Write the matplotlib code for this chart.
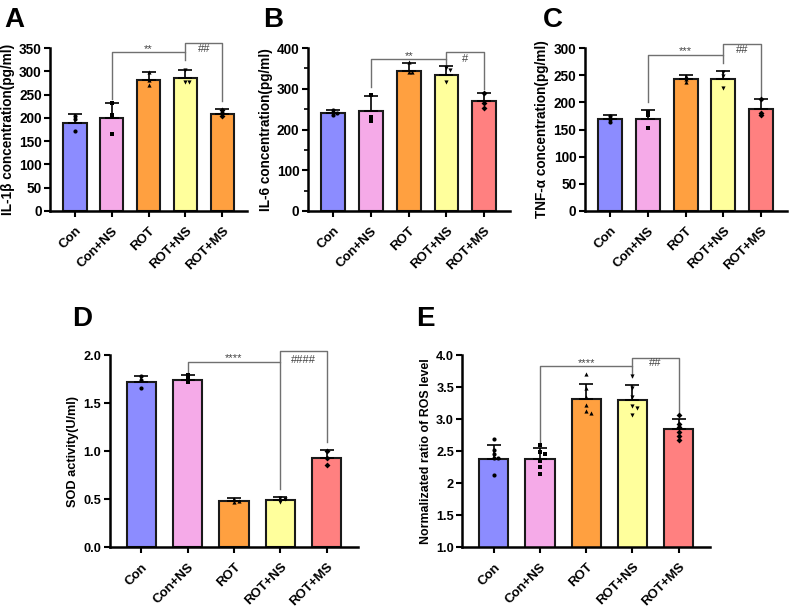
import numpy as np
import matplotlib
matplotlib.use('Agg')
from matplotlib import pyplot as plt

plt.rcParams['font.family'] = ['Liberation Sans', 'DejaVu Sans']
plt.rcParams['font.weight'] = 'bold'

groups = ['Con', 'Con+NS', 'ROT', 'ROT+NS', 'ROT+MS']
colors = ['#8C8CFF', '#F5AAE8', '#FFA040', '#FFFF9C', '#FF8080']
colors_a = ['#8C8CFF', '#F5AAE8', '#FFA040', '#FFFF9C', '#FFA040']
markers = ['o', 's', '^', 'v', 'D']

# panel A: IL-1b
il1b_mean = [190, 200, 282, 285, 209]
il1b_err = [18, 33, 16, 17, 9]
il1b_pts = [[204, 198, 171], [231, 207, 165], [299, 282, 271], [302, 277, 277], [216, 210, 203]]

# panel B: IL-6
il6_mean = [241, 245, 343, 335, 269]
il6_err = [6, 37, 20, 20, 21]
il6_pts = [[236, 248, 240], [285, 230, 220], [365, 340, 340], [350, 345, 316], [290, 265, 253]]

# panel C: TNF-a
tnf_mean = [169, 170, 243, 243, 188]
tnf_err = [7, 16, 7, 15, 18]
tnf_pts = [[164, 175, 170], [183, 176, 153], [248, 243, 238], [255, 248, 226], [207, 180, 176]]

# panel D: SOD
sod_mean = [1.72, 1.74, 0.48, 0.49, 0.93]
sod_err = [0.06, 0.05, 0.03, 0.03, 0.08]
sod_pts = [[1.78, 1.74, 1.66], [1.79, 1.75, 1.72], [0.50, 0.47, 0.48], [0.51, 0.50, 0.47], [1.00, 0.93, 0.86]]

# panel E: ROS
ros_mean = [2.38, 2.37, 3.31, 3.30, 2.85]
ros_err = [0.22, 0.18, 0.24, 0.23, 0.15]
ros_pts = [[2.69, 2.52, 2.46, 2.40, 2.40, 2.13],
           [2.60, 2.48, 2.46, 2.35, 2.25, 2.14],
           [3.70, 3.48, 3.35, 3.22, 3.12, 3.10],
           [3.68, 3.48, 3.35, 3.20, 3.18, 3.07],
           [3.07, 2.93, 2.87, 2.80, 2.73, 2.67]]

# brackets: x1, x2, y, left leg bottom, right leg bottom, label, label y
br_a = [(1, 3, 341, 240, 324, '**', 347), (3, 4, 361, 341, 236, '##', 347)]
br_b = [(1, 3, 373, 305, 359, '**', 381), (3, 4, 390, 373, 300, '#', 374)]
br_c = [(1, 3, 288, 201, 272, '***', 295), (3, 4, 308, 288, 212, '##', 296)]
br_d = [(1, 3, 1.924, 1.80, 0.61, '****', 1.965), (3, 4, 2.045, 1.924, 1.10, '####', 1.95)]
br_e = [(1, 3, 3.83, 2.62, 3.65, '****', 3.88), (3, 4, 3.95, 3.83, 3.08, '##', 3.87)]

fig = plt.figure(figsize=(7.89, 6.08), dpi=100)


def spread(vals, tol, step=0.1):
    offs = []
    for i, v in enumerate(vals):
        n = sum(1 for u in vals[:i] if abs(u - v) < tol)
        offs.append(0 if n == 0 else (step if n % 2 else -step) * ((n + 1) // 2))
    return offs


def panel(rect, means, errs, pts, cols, ylab, ylim, yticks, ytl, brs, tol, fs, minor=None):
    ax = fig.add_axes(rect)
    x = np.arange(len(groups))
    ax.bar(x, means, width=0.63, color=cols, edgecolor='#1a1a1a', linewidth=1.5, zorder=2)
    ax.errorbar(x, means, yerr=[np.zeros(len(errs)), errs], fmt='none', ecolor='black',
                elinewidth=1.2, capsize=5, capthick=1.2, zorder=3)
    for i, p in enumerate(pts):
        offs = spread(p, tol)
        ax.scatter(x[i] + np.array(offs), p, marker=markers[i], s=9, color='black', zorder=4,
                   linewidths=0)
    for x1, x2, y, yl, yr, lab, ly in brs:
        ax.plot([x1, x1, x2, x2], [yl, y, y, yr], color='#707070', lw=1.0, clip_on=False, zorder=1)
        ax.text((x1 + x2) / 2, ly, lab, ha='center', va='center', fontsize=8,
                color='#444444', fontweight='normal')
    ax.set_xlim(-0.68, 4.68)
    ax.set_ylim(*ylim)
    ax.set_yticks(yticks)
    ax.set_yticklabels(ytl)
    if minor is not None:
        ax.set_yticks(minor, minor=True)
        ax.tick_params(axis='y', which='minor', length=3, width=1.2)
    ax.set_xticks(x)
    ax.set_xticklabels(groups, rotation=45, ha='right', rotation_mode='anchor')
    ax.tick_params(axis='y', which='major', labelsize=fs[0], width=1.5, length=4, pad=2)
    ax.tick_params(axis='x', which='major', labelsize=9.5, width=1.5, length=4, pad=6)
    for lbl in ax.get_xticklabels() + ax.get_yticklabels():
        lbl.set_fontweight('bold')
    ax.spines['top'].set_visible(False)
    ax.spines['right'].set_visible(False)
    ax.spines['left'].set_linewidth(1.8)
    ax.spines['bottom'].set_linewidth(1.8)
    ax.set_ylabel(ylab, fontsize=fs[1], fontweight='bold', labelpad=3)
    return ax


panel([0.0634, 0.653, 0.250, 0.268], il1b_mean, il1b_err, il1b_pts, colors_a,
      'IL-1β concentration(pg/ml)', (0, 350), np.arange(0, 351, 50),
      [str(v) for v in range(0, 351, 50)], br_a, 4, (9.8, 9.8))
panel([0.390, 0.653, 0.256, 0.268], il6_mean, il6_err, il6_pts, colors,
      'IL-6 concentration(pg/ml)', (0, 400), np.arange(0, 401, 100),
      [str(v) for v in range(0, 401, 100)], br_b, 6, (9.8, 9.8), minor=np.arange(50, 400, 100))
panel([0.741, 0.653, 0.256, 0.268], tnf_mean, tnf_err, tnf_pts, colors,
      'TNF-α concentration(pg/ml)', (0, 300), np.arange(0, 301, 50),
      [str(v) for v in range(0, 301, 50)], br_c, 3, (9.8, 9.8))
panel([0.139, 0.100, 0.315, 0.316], sod_mean, sod_err, sod_pts, colors,
      'SOD activity(U/ml)', (0, 2.0), np.arange(0, 2.01, 0.5),
      ['0.0', '0.5', '1.0', '1.5', '2.0'], br_d, 0.015, (9.2, 9.2))
panel([0.586, 0.100, 0.314, 0.316], ros_mean, ros_err, ros_pts, colors,
      'Normalizated ratio of ROS level', (1.0, 4.0), np.arange(1.0, 4.01, 0.5),
      ['1.0', '1.5', '2', '2.5', '3.0', '3.5', '4.0'], br_e, 0.03, (9.2, 8.9))

# panel letters
for lx, ly, s in [(0.006, 0.988, 'A'), (0.333, 0.988, 'B'), (0.688, 0.988, 'C'),
                  (0.092, 0.497, 'D'), (0.528, 0.497, 'E')]:
    fig.text(lx, ly, s, fontsize=20, fontweight='bold', va='top', ha='left')

fig.savefig('out.png', dpi=100)
